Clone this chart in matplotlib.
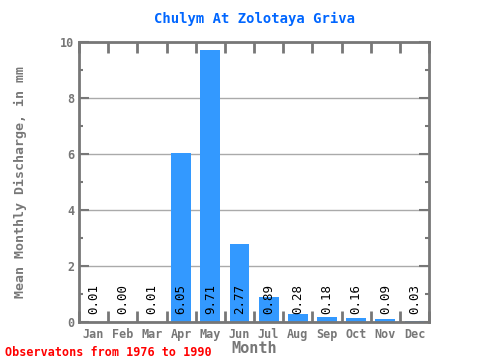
import matplotlib
matplotlib.use('Agg')
import matplotlib.pyplot as plt
from matplotlib.ticker import MultipleLocator, FixedLocator

months = ['Jan', 'Feb', 'Mar', 'Apr', 'May', 'Jun', 'Jul', 'Aug', 'Sep', 'Oct', 'Nov', 'Dec']
discharge = [0.01, 0.00, 0.01, 6.05, 9.71, 2.77, 0.89, 0.28, 0.18, 0.16, 0.09, 0.03]

plt.rcParams['font.family'] = ['DejaVu Sans Mono']
grey = '#777777'

fig = plt.figure(figsize=(4.8, 3.6), dpi=100)
ax = fig.add_axes([0.1646, 0.1056, 0.7292, 0.7777])

x = list(range(len(months)))
ax.bar(x, discharge, width=0.68, color='#3399ff', zorder=2)
for i, v in enumerate(discharge):
    ax.text(i, 0.3, '%.2f' % v, rotation=90, ha='center', va='bottom',
            fontsize=9, color='black', zorder=3)

ax.set_xlim(-0.5, 11.5)
ax.set_ylim(0, 10)
ax.set_xticks(x)
ax.set_xticklabels(months)
ax.xaxis.set_minor_locator(FixedLocator([i + 0.5 for i in range(-1, 12)]))
ax.yaxis.set_major_locator(MultipleLocator(2))
ax.yaxis.set_minor_locator(MultipleLocator(1))
ax.tick_params(axis='x', which='major', length=0, pad=4, labelsize=8.5, labelcolor=grey)
ax.tick_params(axis='x', which='minor', length=8, width=2, color=grey, direction='in', top=True, bottom=True)
ax.tick_params(axis='y', which='major', length=7, width=1.5, color=grey, direction='in',
               left=True, right=True, labelsize=8.5, labelcolor=grey)
ax.tick_params(axis='y', which='minor', length=3, width=1.5, color=grey, direction='in', left=True, right=True)
for lab in ax.get_xticklabels() + ax.get_yticklabels():
    lab.set_fontweight('bold')

ax.grid(axis='y', which='major', color='#aaaaaa', linewidth=1, zorder=1)
for s in ax.spines.values():
    s.set_color(grey)
    s.set_linewidth(2)

ax.set_title('Chulym At Zolotaya Griva', color='#0066ff', fontsize=10, fontweight='bold', pad=14)
ax.set_xlabel('Month', color=grey, fontsize=11, fontweight='bold', labelpad=0)
ax.set_ylabel('Mean Monthly Discharge, in mm', color=grey, fontsize=9.5, fontweight='bold', labelpad=24)
fig.text(0.01, 0.012, 'Observatons from 1976 to 1990', color='red', fontsize=8.5, fontweight='bold')

fig.savefig('out.png', dpi=100)
